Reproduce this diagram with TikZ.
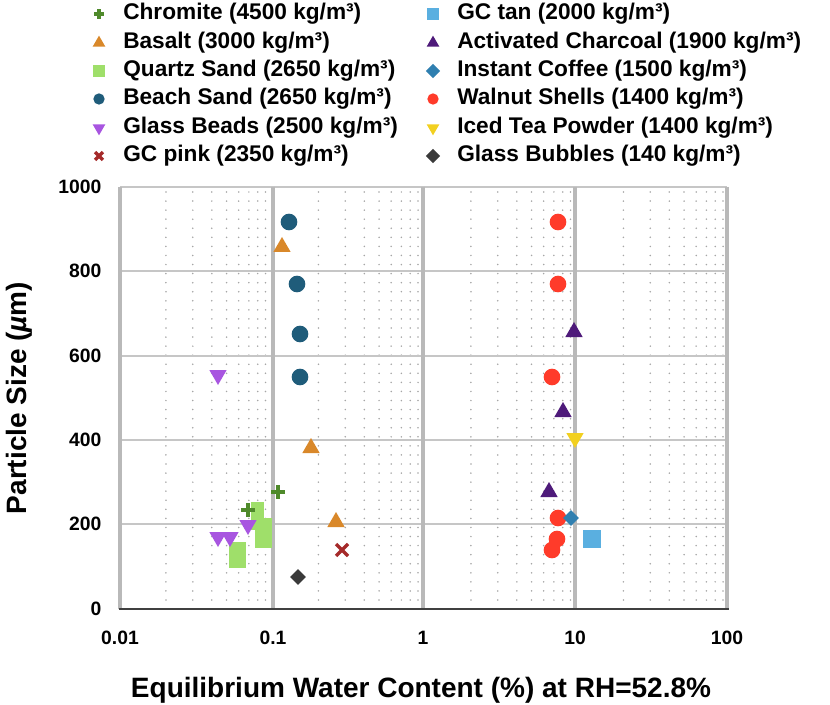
\documentclass[tikz,border=0pt]{standalone}
\usepackage{fontspec}
\setmainfont{Liberation Sans}
\usetikzlibrary{shapes.geometric}
\definecolor{chromite}{HTML}{4F8A2B}
\definecolor{basalt}{HTML}{D9882A}
\definecolor{quartz}{HTML}{9FDF6A}
\definecolor{beach}{HTML}{1F5C7A}
\definecolor{beads}{HTML}{A855E0}
\definecolor{gcpink}{HTML}{A52A2A}
\definecolor{gctan}{HTML}{5AAFE0}
\definecolor{charcoal}{HTML}{4E1A7A}
\definecolor{coffee}{HTML}{2F7FB0}
\definecolor{walnut}{HTML}{FF3B2A}
\definecolor{icedtea}{HTML}{F2D020}
\definecolor{bubbles}{HTML}{3A3A3A}
\tikzset{
  mcirc/.style={circle,fill=#1,inner sep=0,minimum size=12.5pt},
  msq/.style={rectangle,fill=#1,inner sep=0,minimum size=13pt},
  mup/.style={regular polygon,regular polygon sides=3,fill=#1,inner sep=0,minimum size=15pt},
  mdown/.style={regular polygon,regular polygon sides=3,shape border rotate=180,fill=#1,inner sep=0,minimum size=15pt},
  mdia/.style={diamond,fill=#1,inner sep=0,minimum size=12pt},
  lbl/.style={anchor=west,font=\bfseries\fontsize{17}{19}\selectfont,inner sep=0},
  tick/.style={font=\bfseries\fontsize{14.5}{16}\selectfont},
  big/.style={font=\bfseries\fontsize{21}{24}\selectfont},
  dots/.style={gray!70,line width=1.3pt,line cap=round,dash pattern=on 0pt off 6.8pt},
  pics/mplus/.style={code={\draw[#1,line width=2.6pt] (-7,0) -- (7,0) (0,-7) -- (0,7);}},
  pics/mcross/.style={code={\draw[#1,line width=2.6pt] (-6,-6) -- (6,6) (-6,6) -- (6,-6);}},
}
\begin{document}
\begin{tikzpicture}[x=0.75pt,y=-0.75pt]
  \useasboundingbox (0,0) rectangle (830,705);
  % grid
  \foreach \d in {0,1,2,3}{
    \foreach \k in {2,...,9}{
      \pgfmathsetmacro\gx{120+152.5*(\d+ln(\k)/ln(10))}
      \draw[dots] (\gx,192) -- (\gx,609);
    }
  }
  \foreach \yy in {271,356,440,524}
    \draw[gray!45,line width=1pt] (120,\yy) -- (727,\yy);
  \draw[gray!45,line width=1pt] (120,187) -- (727,187);
  \foreach \xx in {120,273,423,575,727}
    \draw[gray!55,line width=2.4pt] (\xx,187) -- (\xx,609);
  % axes
  \draw[black!75,line width=1pt] (119,609) -- (729,609);
  \foreach \v/\yy in {0/609,200/524,400/440,600/356,800/271,1000/187}
    \node[tick,anchor=east] (y\v) at (106,\yy) {\v};
  \foreach \v/\xx in {0.01/120,0.1/273,1/423,10/575,100/727}
    \node[tick] (x\v) at (\xx,638) {\v};
  \node[big] (xlab) at (421,690) {Equilibrium Water Content (\%) at RH=52.8\%};
  \node[big,rotate=90] (ylab) at (19,398) {Particle Size (\textit{µ}m)};
  % data
  \foreach \p in {(289,222),(297,284),(300,334),(300,377)} \node[mcirc=beach] at \p {};
  \foreach \p in {(282,247),(311,448),(336,522)} \node[mup=basalt] at \p {};
  \fill[quartz] (229,542) rectangle (246,568);
  \fill[quartz] (251,502) rectangle (264,530);
  \fill[quartz] (255,518) rectangle (272,548);
  \foreach \p in {(218,375),(218,537),(230,537),(248,525)} \node[mdown=beads] at \p {};
  \foreach \p in {(278,492),(248,510)} \pic at \p {mplus=chromite};
  \pic at (342,550) {mcross=gcpink};
  \node[mdia=bubbles] at (298,577) {};
  \node[msq=gctan] at (592,539) {};
  \foreach \p in {(574,332),(563,412),(549,492)} \node[mup=charcoal] at \p {};
  \foreach \p in {(558,222),(558,284),(552,377),(558,518),(557,539),(552,550)} \node[mcirc=walnut] at \p {};
  \node[mdia=coffee] at (571,518) {};
  \node[mdown=icedtea] at (575,438) {};
  % legend
  \pic[scale=0.7] at (99,14) {mplus=chromite};
  \node[lbl] (lchromite) at (123,14) {Chromite (4500 kg/m³)};
  \node[mup=basalt,minimum size=11pt] at (99,43) {};
  \node[lbl] (lbasalt) at (123,43) {Basalt (3000 kg/m³)};
  \node[msq=quartz,minimum size=8.5pt] at (99,71) {};
  \node[lbl] (lquartz) at (123,71) {Quartz Sand (2650 kg/m³)};
  \node[mcirc=beach,minimum size=8.5pt] at (99,99) {};
  \node[lbl] (lbeach) at (123,99) {Beach Sand (2650 kg/m³)};
  \node[mdown=beads,minimum size=11pt] at (99,128) {};
  \node[lbl] (lbeads) at (123,128) {Glass Beads (2500 kg/m³)};
  \pic[scale=0.65] at (99,156) {mcross=gcpink};
  \node[lbl] (lgcpink) at (123,156) {GC pink (2350 kg/m³)};
  \node[msq=gctan,minimum size=8.5pt] at (433,14) {};
  \node[lbl] (lgctan) at (457,14) {GC tan (2000 kg/m³)};
  \node[mup=charcoal,minimum size=11pt] at (433,43) {};
  \node[lbl] (lcharcoal) at (457,43) {Activated Charcoal (1900 kg/m³)};
  \node[mdia=coffee,minimum size=11pt] at (433,71) {};
  \node[lbl] (lcoffee) at (457,71) {Instant Coffee (1500 kg/m³)};
  \node[mcirc=walnut,minimum size=8.5pt] at (433,99) {};
  \node[lbl] (lwalnut) at (457,99) {Walnut Shells (1400 kg/m³)};
  \node[mdown=icedtea,minimum size=11pt] at (433,128) {};
  \node[lbl] (licedtea) at (457,128) {Iced Tea Powder (1400 kg/m³)};
  \node[mdia=bubbles,minimum size=11pt] at (433,156) {};
  \node[lbl] (lbubbles) at (457,156) {Glass Bubbles (140 kg/m³)};
\end{tikzpicture}
\end{document}
